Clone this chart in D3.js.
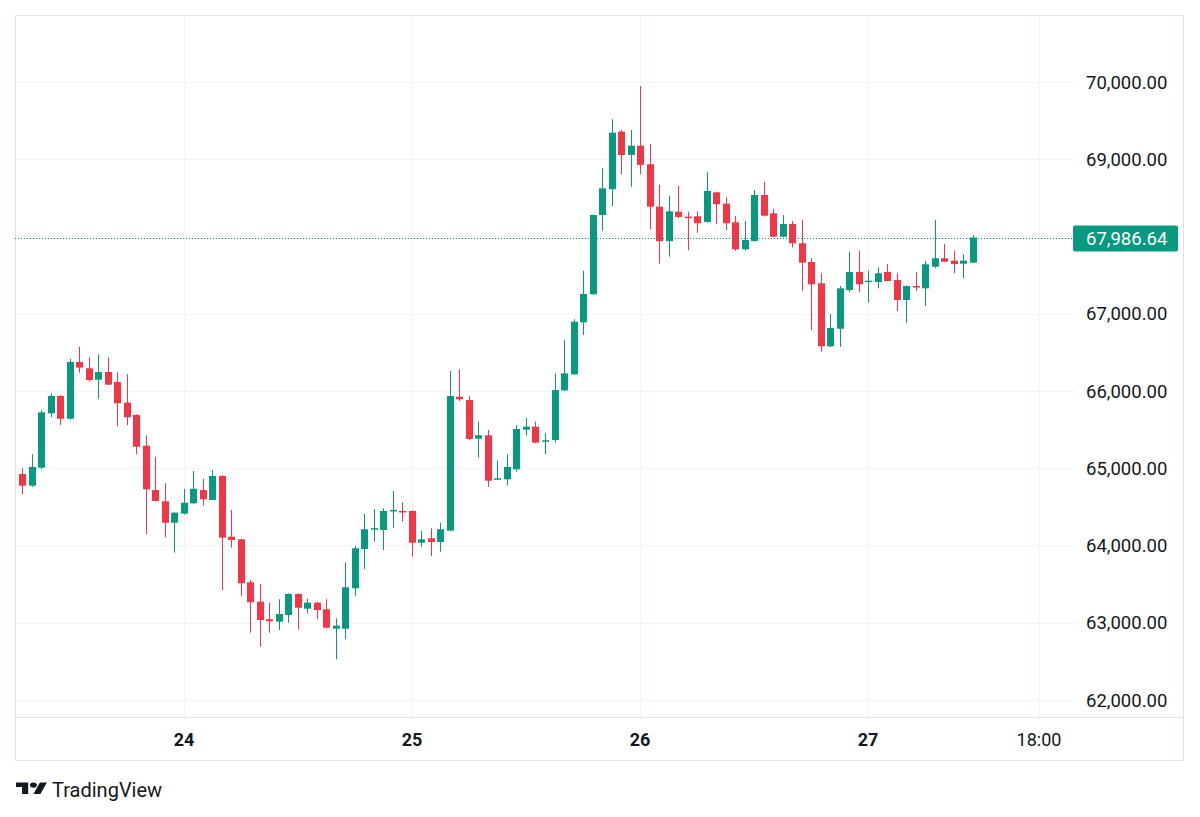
<!DOCTYPE html>
<html><head><meta charset="utf-8">
<script src="https://cdn.jsdelivr.net/npm/d3@7"></script>
<style>
body{margin:0;background:#fff;}
svg{display:block;font-family:Roboto,"Noto Sans",sans-serif;}
</style>
</head><body>
<svg id="chart" width="1200" height="817"></svg>
<script>
// ---- data (hourly candles, first one at startTime) ----
const startTime = "2024-03-23T07:00:00Z";
const opens = [64925,64774,65007,65711,65935,65641,66375,66294,66146,66246,
66117,65849,65689,65292,64718,64572,64295,64412,64546,64718,
64589,64900,64114,64080,63524,63273,63045,63014,63100,63372,
63182,63260,63174,62923,62923,63446,63955,64215,64201,64447,
64447,64447,64036,64093,64045,64192,65926,65883,65383,65427,
64861,64857,64986,65499,65538,65353,65366,66008,66216,66889,
67252,68278,68611,69357,69055,69175,68935,68386,67939,68321,
68257,68261,68188,68572,68425,68184,67834,67942,68537,68300,
67997,68162,67912,67670,67394,66579,66806,67307,67540,67415,
67411,67540,67437,67178,67359,67329,67609,67718,67687,67648,
67661];
const highs = [64999,65181,65750,65970,65950,66418,66573,66436,66475,66436,
66242,66216,65700,65427,65146,64805,64430,64731,64964,64865,
64977,64910,64460,64085,63553,63502,63260,63304,63380,63380,
63311,63270,63304,63057,63782,63994,64408,64469,64482,64706,
64559,64455,64191,64222,64295,66259,66281,65935,65603,65495,
65098,65181,65556,65655,65603,65453,66229,66660,66928,67557,
68285,68883,69517,69379,69379,69948,69197,68671,68524,68654,
68321,68325,68831,68580,68507,68265,68201,68602,68705,68360,
68278,68201,68214,67718,67524,66997,67359,67803,67816,67557,
67601,67644,67524,67365,67537,67683,68214,67903,67816,67770,
68019];
const lows = [64663,64760,64995,65660,65560,65630,66237,66120,65900,66075,
65543,65556,65184,64149,64570,64106,63907,64400,64540,64515,
64585,63424,63972,63346,62871,62690,62871,62906,63001,62915,
63122,63049,62930,62527,62786,63350,63692,64049,63942,64230,
64308,63855,63984,63864,63920,64185,65871,65366,65137,64761,
64855,64779,64955,65427,65325,65184,65331,66000,66210,66725,
67245,68075,68395,68805,68645,68805,68093,67648,67739,68236,
67821,68049,68180,68158,68084,67816,67816,67935,68260,67990,
67990,67858,67298,66790,66509,66570,66573,67278,67278,67143,
67329,67418,67036,66884,67295,67100,67588,67670,67524,67459,
67655];
const closes = [64774,65016,65724,65935,65641,66375,66302,66142,66246,66082,
65841,65660,65279,64727,64576,64295,64425,64554,64735,64598,
64900,64101,64071,63511,63265,63036,63019,63113,63372,63195,
63260,63165,62936,62962,63459,63964,64210,64225,64447,64460,
64430,64036,64080,64045,64210,65935,65893,65379,65427,64839,
64870,65016,65508,65538,65331,65362,66013,66229,66897,67256,
68278,68624,69344,69055,69175,68926,68386,67939,68326,68252,
68246,68171,68589,68417,68171,67834,67955,68537,68269,67997,
68162,67912,67661,67381,66579,66816,67329,67540,67381,67428,
67524,67424,67178,67359,67342,67640,67718,67674,67644,67687,
67986.64];
const lastPrice = 67986.64;
const priceTicks = [62000,63000,64000,65000,66000,67000,68000,69000,70000];
const timeTicks = ["2024-03-24T00:00:00Z","2024-03-25T00:00:00Z","2024-03-26T00:00:00Z","2024-03-27T00:00:00Z","2024-03-27T18:00:00Z"];
const timeTickLabels = ["24","25","26","27","18:00"];
const timeTickBold = [true,true,true,true,false];
const visibleTimeRange = ["2024-03-23T06:12:40Z","2024-03-27T21:47:20Z"];
const visiblePriceRange = [61780,70867];

// ---- layout ----
const W = 1200, H = 817;
const frame = {l:15, t:15, r:1183, b:760};
const plot = {l:15, t:15, r:1075, b:717};
const UP = "#089981", DOWN = "#F23645", TXT = "#131722";
const GRID = "#f0f3fa", BORDER = "#e0e3eb";

const svg = d3.select("#chart");
svg.append("rect").attr("width",W).attr("height",H).attr("fill","#fff");

const x = d3.scaleUtc().domain(visibleTimeRange.map(d=>new Date(d))).range([plot.l, plot.r]);
const y = d3.scaleLinear().domain(visiblePriceRange).range([plot.b, plot.t]);

const t0 = new Date(startTime).getTime();
const candles = opens.map((o,i)=>({
  t: new Date(t0 + i*3600000), o, h: highs[i], l: lows[i], c: closes[i]
}));

// grid
const g = svg.append("g");
g.selectAll("line.hg").data(priceTicks).join("line")
  .attr("x1",plot.l).attr("x2",plot.r)
  .attr("y1",d=>Math.round(y(d))+0.5).attr("y2",d=>Math.round(y(d))+0.5)
  .attr("stroke",GRID).attr("stroke-width",1);
g.selectAll("line.vg").data(timeTicks).join("line")
  .attr("x1",d=>Math.round(x(new Date(d)))+0.5).attr("x2",d=>Math.round(x(new Date(d)))+0.5)
  .attr("y1",plot.t).attr("y2",plot.b)
  .attr("stroke",GRID).attr("stroke-width",1);

// frame
svg.append("rect").attr("x",frame.l+0.5).attr("y",frame.t+0.5)
  .attr("width",frame.r-frame.l).attr("height",frame.b-frame.t)
  .attr("fill","none").attr("stroke",BORDER);
svg.append("line").attr("x1",frame.l).attr("x2",frame.r)
  .attr("y1",plot.b+0.5).attr("y2",plot.b+0.5).attr("stroke",BORDER);

// candles
const bw = 7;
const cg = svg.append("g");
const cs = cg.selectAll("g").data(candles).join("g");
cs.append("line")
  .attr("x1",d=>Math.round(x(d.t))+0.5).attr("x2",d=>Math.round(x(d.t))+0.5)
  .attr("y1",d=>y(d.h)).attr("y2",d=>y(d.l))
  .attr("stroke",d=>d.c>=d.o?UP:DOWN).attr("stroke-width",1);
cs.append("rect")
  .attr("x",d=>Math.round(x(d.t))-3)
  .attr("width",bw)
  .attr("y",d=>y(Math.max(d.o,d.c)))
  .attr("height",d=>Math.max(1.5, Math.abs(y(d.o)-y(d.c))))
  .attr("fill",d=>d.c>=d.o?UP:DOWN);

// last price line
const ly = Math.round(y(lastPrice))+0.5;
svg.append("line").attr("x1",plot.l).attr("x2",plot.r).attr("y1",ly).attr("y2",ly)
  .attr("stroke",UP).attr("stroke-width",1).attr("stroke-dasharray","1,2");

// price axis labels
const fmt = d3.format(",.2f");
svg.append("g").selectAll("text").data(priceTicks.filter(d=>Math.abs(y(d)-y(lastPrice))>18)).join("text")
  .attr("x",1086).attr("y",d=>y(d)).attr("dy","0.36em")
  .attr("font-size",18.5).attr("fill",TXT).text(d=>fmt(d));

// badge
svg.append("rect").attr("x",1073).attr("y",ly-13).attr("width",105).attr("height",26)
  .attr("rx",2).attr("fill",UP);
svg.append("text").attr("x",1086).attr("y",ly).attr("dy","0.36em")
  .attr("font-size",18.5).attr("fill","#fff").text(fmt(lastPrice));

// time axis labels
svg.append("g").selectAll("text").data(timeTicks).join("text")
  .attr("x",d=>x(new Date(d))).attr("y",740).attr("dy","0.36em")
  .attr("text-anchor","middle").attr("font-size",18)
  .attr("font-weight",(d,i)=>timeTickBold[i]?700:400)
  .attr("fill",TXT).text((d,i)=>timeTickLabels[i]);

// TradingView logo
const logo = svg.append("g").attr("transform","translate(16,780) scale(0.87,0.64)").attr("fill",TXT);
logo.append("path").attr("d","M14 22H7V11H0V4h14v18zM28 22h-8l7.5-18h8L28 22z");
logo.append("circle").attr("cx",20).attr("cy",8).attr("r",4);
svg.append("text").attr("x",52).attr("y",797).attr("font-size",20).attr("font-weight",400)
  .attr("fill",TXT).text("TradingView");
</script>
</body></html>
